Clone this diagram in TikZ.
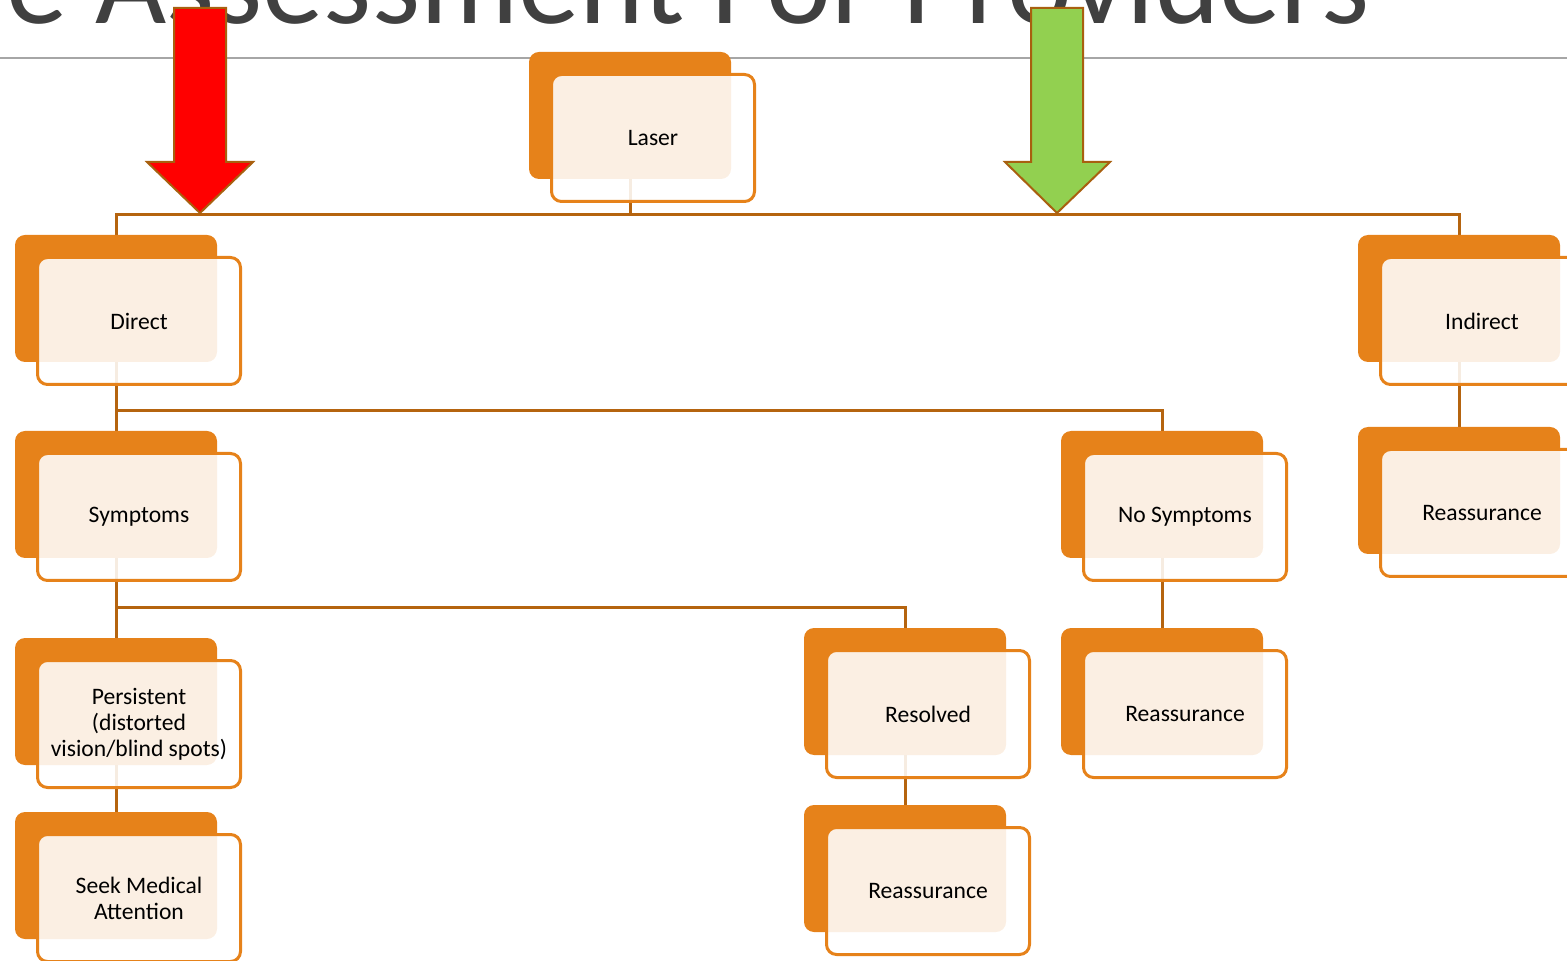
\documentclass[tikz,border=0pt]{standalone}
\usepackage{fontspec}
\setmainfont{Carlito}
\usetikzlibrary{backgrounds}

\definecolor{tileorange}{HTML}{E6821A}
\definecolor{linkbrown}{HTML}{B5640F}
\definecolor{arrowedge}{HTML}{A8600F}
\definecolor{arrowred}{HTML}{FF0000}
\definecolor{arrowgreen}{HTML}{92D050}
\definecolor{titlegray}{HTML}{404040}
\definecolor{rulegray}{HTML}{A6A6A6}

\tikzset{
    tileback/.style={fill=tileorange, rounded corners=5pt, inner sep=0pt,
        minimum width=101pt, minimum height=63.5pt},
    tilefront/.style={draw=tileorange, line width=1.5pt, fill=white,
        fill opacity=0.88, text opacity=1, rounded corners=5pt,
        minimum width=101.5pt, minimum height=63.5pt, align=center,
        font=\fontsize{11.8}{13}\selectfont},
    link/.style={draw=linkbrown, line width=1.5pt},
    downarrow/.style={draw=arrowedge, line width=1pt, line join=miter},
}

% orange tile with the lighter card laid over it
\newcommand\tile[4]{%
    \node[tileback] (#1) at (#2,#3) {};
    \node[tilefront] (#1-f) at ([shift={(23,22.5)}]#1.center) {#4};
}

\begin{document}
\begin{tikzpicture}[x=0.5pt,y=-0.5pt]
    \useasboundingbox (0,0) rectangle (1567,961);

    % the tree
    \tile{laser}{630}{115.5}{Laser}
    \tile{direct}{116}{298.5}{Direct}
    \tile{indirect}{1459}{298.5}{Indirect}
    \tile{symptoms}{116}{494.5}{Symptoms}
    \tile{nosymp}{1162}{494.5}{No Symptoms}
    \tile{indreass}{1459}{490.5}{Reassurance}
    \tile{persist}{116}{701.5}{Persistent\\(distorted\\vision/blind spots)}
    \tile{resolved}{905}{691.5}{Resolved}
    \tile{nsreass}{1162}{691.5}{Reassurance}
    \tile{seek}{116}{875.5}{Seek Medical\\Attention}
    \tile{resreass}{905}{868.5}{Reassurance}

    \begin{pgfonlayer}{background}
        % heading, mostly above the page
        \node[anchor=base east, inner sep=0pt, text=titlegray,
            font=\fontsize{61.5}{62}\selectfont] (title) at (1370,24)
            {e Assessment For Providers};
        \draw[rulegray, line width=0.75pt] (0,58) -- (1567,58);

        % connectors, seen faintly through the cards
        \path (laser.south) ++(0,35) coordinate (laser-bus);
        \draw[link] (laser.south) -- (laser-bus) -| (direct.north);
        \draw[link] (laser-bus) -| (indirect.north);

        \path (direct.south) ++(0,48) coordinate (direct-bus);
        \draw[link] (direct.south) -- (direct-bus) -| (symptoms.north);
        \draw[link] (direct-bus) -| (nosymp.north);

        \path (symptoms.south) ++(0,49) coordinate (symptoms-bus);
        \draw[link] (symptoms.south) -- (symptoms-bus) -| (persist.north);
        \draw[link] (symptoms-bus) -| (resolved.north);

        \draw[link] (indirect.south) -- (indreass.north);
        \draw[link] (nosymp.south) -- (nsreass.north);
        \draw[link] (persist.south) -- (seek.north);
        \draw[link] (resolved.south) -- (resreass.north);
    \end{pgfonlayer}

    % block arrows
    \draw[downarrow, fill=arrowred] (174,8) -- (226,8) -- (226,162) -- (253,162)
        -- (200,213) -- (147,162) -- (174,162) -- cycle;
    \draw[downarrow, fill=arrowgreen] (1031,8) -- (1083,8) -- (1083,162) -- (1110,162)
        -- (1057,213) -- (1005,162) -- (1031,162) -- cycle;
\end{tikzpicture}
\end{document}
